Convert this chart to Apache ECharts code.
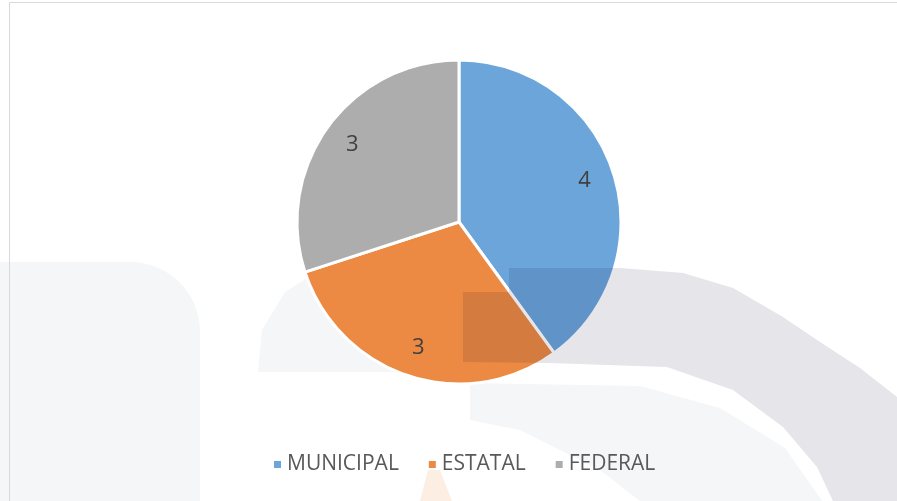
<!DOCTYPE html>
<html>
<head>
<meta charset="utf-8">
<script src="https://cdn.jsdelivr.net/npm/echarts@6/dist/echarts.min.js"></script>
<style>
    html, body { margin: 0; padding: 0; background: #fff; }
    #chart { width: 897px; height: 501px; }
</style>
</head>
<body>
<div id="chart"></div>
<script>
// datos del gráfico
let categories = ['MUNICIPAL', 'ESTATAL', 'FEDERAL'];
let values = [4, 3, 3];
let colors = ['#6ba5da', '#ec8a44', '#adadad'];

let pieData = categories.map((name, i) => ({ name: name, value: values[i] }));

let chart = echarts.init(document.getElementById('chart'));

// marca de agua de fondo (decoración)
let watermark = [
    { type: 'rect', shape: { x: 0, y: 262, width: 200, height: 260, r: [0, 70, 0, 0] },
      style: { fill: '#f5f6f8' }, z: -10 },
    { type: 'polygon', shape: { points: [[258, 372], [262, 330], [285, 292], [320, 270], [520, 266], [520, 372]] },
      style: { fill: '#f5f6f8' }, z: -10 },
    { type: 'polygon', shape: { points: [[470, 383], [640, 386], [720, 408], [785, 448], [822, 501], [640, 501], [600, 470], [520, 430], [470, 420]] },
      style: { fill: '#f5f6f8' }, z: -10 },
    { type: 'polygon', shape: { points: [[420, 501], [428, 470], [440, 470], [452, 501]] },
      style: { fill: '#fdeee3' }, z: -10 },
    { type: 'polygon', shape: { points: [[509, 268], [620, 268], [683, 273], [733, 288], [783, 317], [817, 340], [860, 368], [897, 397],
        [897, 501], [833, 501], [817, 467], [783, 427], [733, 390], [667, 367], [550, 363], [463, 362], [463, 292], [509, 292]] },
      style: { fill: '#e5e5ea', blend: 'multiply' }, z: 100 },
    { type: 'rect', shape: { x: 9.5, y: 2.5, width: 900, height: 520 },
      style: { fill: 'none', stroke: '#d9d9d9', lineWidth: 1 }, z: -5 }
];

let option = {
    backgroundColor: '#ffffff',
    animation: false,
    color: colors,
    graphic: watermark,
    legend: {
        data: categories,
        bottom: 21,
        left: 267,
        icon: 'rect',
        itemWidth: 9,
        itemHeight: 9,
        itemGap: 28,
        textStyle: { fontFamily: 'Open Sans', fontSize: 21, color: '#595959' }
    },
    series: [
        {
            type: 'pie',
            center: [459, 222],
            radius: [0, 162],
            startAngle: 90,
            clockwise: true,
            data: pieData,
            label: { show: false },
            labelLine: { show: false },
            itemStyle: { borderColor: '#ffffff', borderWidth: 3 }
        },
        {
            // serie auxiliar sólo para colocar las etiquetas
            type: 'pie',
            center: [459, 222],
            radius: [96, 162],
            startAngle: 90,
            clockwise: true,
            silent: true,
            data: pieData,
            itemStyle: { color: 'rgba(0,0,0,0)' },
            label: {
                show: true,
                position: 'inside',
                formatter: '{c}',
                fontFamily: 'Open Sans',
                fontSize: 22,
                color: '#404040'
            },
            labelLine: { show: false }
        }
    ]
};

chart.setOption(option);
</script>
</body>
</html>
